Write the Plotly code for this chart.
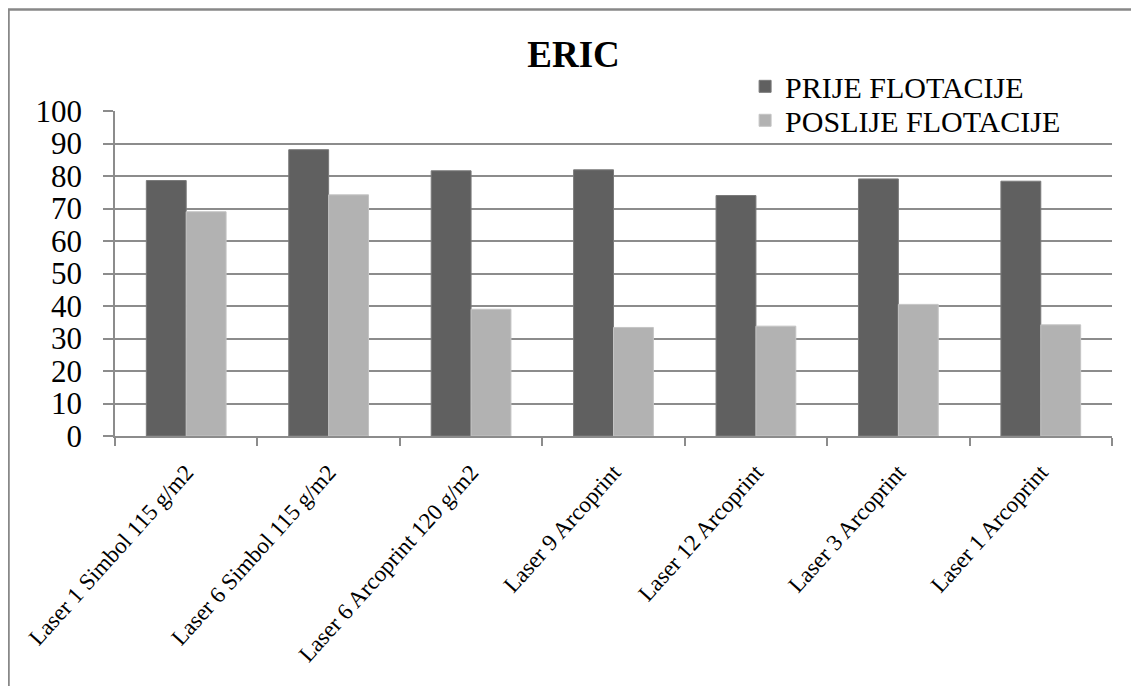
import plotly.graph_objects as go

categories = ["Laser 1 Simbol 115 g/m2", "Laser 6 Simbol 115 g/m2", "Laser 6 Arcoprint 120 g/m2",
              "Laser 9 Arcoprint", "Laser 12 Arcoprint", "Laser 3 Arcoprint", "Laser 1 Arcoprint"]
prije = [78.6, 88.1, 81.6, 81.9, 74.0, 79.1, 78.4]
poslije = [69.0, 74.2, 39.0, 33.4, 33.8, 40.5, 34.2]
y_ticks = [0, 10, 20, 30, 40, 50, 60, 70, 80, 90, 100]

FONT = "Liberation Serif"
GRID = "#8c8c8c"

fig = go.Figure()
fig.add_trace(go.Bar(x=categories, y=prije, name="PRIJE FLOTACIJE", legend="legend",
                     marker=dict(color="#606060", line=dict(color="#7a7a7a", width=1))))
fig.add_trace(go.Bar(x=categories, y=poslije, name="POSLIJE FLOTACIJE", legend="legend2",
                     marker=dict(color="#b2b2b2", line=dict(color="#c4c4c4", width=1))))

leg_common = dict(x=0.632, xanchor="left", yanchor="middle", bgcolor="rgba(0,0,0,0)",
                  font=dict(family=FONT, size=30, color="black"))
fig.update_layout(
    width=1131, height=678,
    margin=dict(l=107, r=27, t=103, b=250),
    paper_bgcolor="white", plot_bgcolor="white",
    barmode="group", bargap=0.44, bargroupgap=0,
    font=dict(family=FONT, color="black"),
    title=dict(text="<b>ERIC</b>", x=0.5, xanchor="center", y=0.932, yanchor="middle",
               xref="container", yref="container", font=dict(family=FONT, size=37, color="black")),
    legend=dict(y=1.0759, **leg_common),
    legend2=dict(y=0.9714, **leg_common),
    showlegend=True,
)
fig.update_yaxes(range=[0, 100], tickvals=y_ticks, showgrid=True, gridcolor=GRID, gridwidth=1.5,
                 showline=True, linecolor=GRID, linewidth=1.5, ticks="outside", ticklen=10,
                 tickcolor=GRID, tickwidth=1.5, tickfont=dict(family=FONT, size=31, color="black"),
                 ticklabelstandoff=15, zeroline=False, fixedrange=True)
fig.update_xaxes(showline=True, linecolor=GRID, linewidth=1.5, ticks="outside", ticklen=8,
                 tickson="boundaries", tickcolor=GRID, tickwidth=1.5, tickangle=-48,
                 tickfont=dict(family=FONT, size=23, color="black"), showgrid=False,
                 ticklabelstandoff=12)
fig.add_shape(type="rect", xref="paper", yref="paper", x0=-0.1068, y0=-0.9, x1=1.2, y1=1.3126,
              line=dict(color="#888888", width=2.5), fillcolor="rgba(0,0,0,0)", layer="below")
fig.add_shape(type="rect", xref="paper", yref="paper", x0=0.63, y0=0.985, x1=0.987, y1=1.02,
              line=dict(width=0), fillcolor="white", layer="above")

fig.write_html("out.html")
